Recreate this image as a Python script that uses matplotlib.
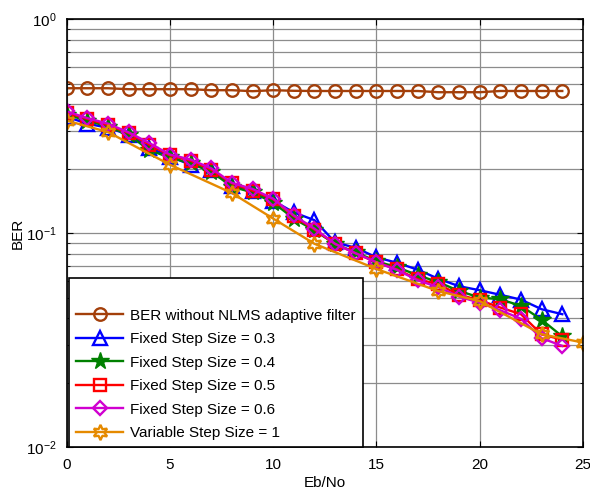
import matplotlib
matplotlib.use("Agg")
import matplotlib.pyplot as plt

plt.rcParams['font.family'] = ['Liberation Sans', 'DejaVu Sans']
plt.rcParams['mathtext.fontset'] = 'custom'
plt.rcParams['mathtext.rm'] = 'Liberation Sans'
plt.rcParams['mathtext.it'] = 'Liberation Sans:italic'

ebno = [0, 1, 2, 3, 4, 5, 6, 7, 8, 9, 10, 11, 12, 13, 14, 15, 16, 17, 18, 19, 20, 21, 22, 23, 24]

ber_no_filter = [0.476, 0.476, 0.476, 0.471, 0.471, 0.471, 0.471, 0.466, 0.466, 0.461, 0.466, 0.463,
                 0.462, 0.462, 0.462, 0.462, 0.462, 0.462, 0.456, 0.456, 0.456, 0.462, 0.462, 0.462, 0.462]

ber_mu03 = [0.350, 0.325, 0.311, 0.289, 0.251, 0.228, 0.209, 0.198, 0.167, 0.157, 0.142, 0.125, 0.115,
            0.0906, 0.0854, 0.0771, 0.0727, 0.0675, 0.0612, 0.0565, 0.0541, 0.0515, 0.0489, 0.0441, 0.0418]

ber_mu04 = [0.358, 0.336, 0.315, 0.289, 0.244, 0.226, 0.212, 0.194, 0.165, 0.155, 0.139, 0.117, 0.103,
            0.089, 0.0813, 0.0739, 0.0693, 0.0636, 0.0590, 0.0537, 0.0500, 0.0491, 0.0457, 0.0394, 0.0329]

ber_mu05 = [0.366, 0.342, 0.320, 0.294, 0.259, 0.231, 0.218, 0.198, 0.171, 0.158, 0.144, 0.120, 0.104,
            0.089, 0.0805, 0.0731, 0.0677, 0.0609, 0.0577, 0.0515, 0.0486, 0.0449, 0.0418, 0.0336, 0.0318]

ber_mu06 = [0.371, 0.345, 0.325, 0.296, 0.264, 0.233, 0.221, 0.201, 0.172, 0.161, 0.145, 0.121, 0.105,
            0.0891, 0.0805, 0.0731, 0.0673, 0.0602, 0.0559, 0.0505, 0.0473, 0.0436, 0.0398, 0.0323, 0.0297]

ebno_var = [0, 2, 5, 8, 10, 12, 15, 18, 20, 23, 25]
ber_var = [0.336, 0.297, 0.209, 0.154, 0.117, 0.0892, 0.068, 0.0536, 0.0481, 0.0337, 0.0308]

fig = plt.figure(figsize=(5.9, 4.94), dpi=100)
ax = fig.add_axes([0.113, 0.095, 0.875, 0.866])

lw = 1.7
ax.semilogy(ebno, ber_no_filter, '-o', color='#A33F0A', lw=lw, ms=9, mfc='none', mew=1.7,
            label='BER without NLMS adaptive filter')
ax.semilogy(ebno, ber_mu03, '-^', color='#0000FF', lw=lw, ms=10, mfc='none', mew=1.7,
            label='Fixed Step Size = 0.3')
ax.semilogy(ebno, ber_mu04, '-*', color='#008000', lw=lw, ms=13, mfc='#008000', mew=1.0,
            label='Fixed Step Size = 0.4')
ax.semilogy(ebno, ber_mu05, '-s', color='#FF0000', lw=lw, ms=9, mfc='none', mew=1.7,
            label='Fixed Step Size = 0.5')
ax.semilogy(ebno, ber_mu06, '-D', color='#D000D0', lw=lw, ms=7.5, mfc='none', mew=1.7,
            label='Fixed Step Size = 0.6')
ax.semilogy(ebno_var, ber_var, '-', marker=(6, 1, 0), color='#E58A00', lw=lw, ms=11, mfc='none',
            mew=1.7, label='Variable Step Size = 1')

ax.set_xlim(0, 25)
ax.set_ylim(1e-2, 1)
ax.set_xticks([0, 5, 10, 15, 20, 25])
ax.grid(True, which='major', color='#8c8c8c', lw=0.9)
ax.grid(True, which='minor', axis='y', color='#8c8c8c', lw=0.9)
ax.tick_params(which='both', direction='in', top=True, right=True, labelsize=11)
ax.tick_params(axis='x', which='major', length=4, pad=8)
ax.tick_params(axis='y', which='major', length=4, pad=7)
ax.tick_params(which='minor', length=2.5)
for s in ax.spines.values():
    s.set_linewidth(1.2)

ax.set_xlabel('Eb/No', fontsize=11, labelpad=3)
ax.set_ylabel('BER', fontsize=11, labelpad=1)

leg = ax.legend(loc='lower left', bbox_to_anchor=(0.005, 0.0), fontsize=11, frameon=True,
                fancybox=False, edgecolor='black', framealpha=1, borderaxespad=0,
                handlelength=3.1, handletextpad=0.45, labelspacing=0.62, borderpad=0.45,
                title=' ', title_fontsize=11)
leg.get_frame().set_linewidth(1.2)

fig.savefig('out.png', dpi=100)
